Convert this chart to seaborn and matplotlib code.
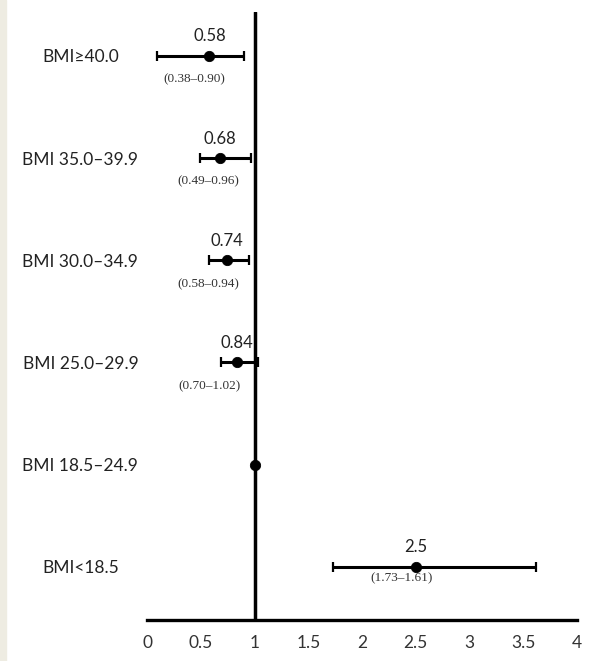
import matplotlib
matplotlib.use("Agg")
import matplotlib.pyplot as plt
import seaborn as sns
import pandas as pd
from matplotlib.patches import Rectangle

# values
categories = ["BMI\u226540.0", "BMI 35.0\u201339.9", "BMI 30.0\u201334.9",
              "BMI 25.0\u201329.9", "BMI 18.5\u201324.9", "BMI<18.5"]
estimates = [0.58, 0.68, 0.74, 0.84, 1.0, 2.5]
lower = [0.09, 0.49, 0.58, 0.69, 1.0, 1.73]
upper = [0.90, 0.97, 0.95, 1.03, 1.0, 3.62]
value_labels = ["0.58", "0.68", "0.74", "0.84", "", "2.5"]
ci_labels = ["(0.38\u20130.90)", "(0.49\u20130.96)", "(0.58\u20130.94)",
             "(0.70\u20131.02)", "", "(1.73\u20131.61)"]
ci_label_x = [0.44, 0.57, 0.57, 0.58, 1.0, 2.37]
xticks = [0, 0.5, 1, 1.5, 2, 2.5, 3, 3.5, 4]
xticklabels = ["0", "0.5", "1", "1.5", "2", "2.5", "3", "3.5", "4"]

df = pd.DataFrame({"group": categories, "or": estimates, "lo": lower, "hi": upper})

sns.set_style("white")
plt.rcParams["font.family"] = ["Lato", "DejaVu Sans"]

fig = plt.figure(figsize=(5.93, 6.61), dpi=100)
fig.patches.append(Rectangle((0, 0), 6 / 593, 1, transform=fig.transFigure,
                             color="#eeece2", zorder=0))
ax = fig.add_axes([0.248, 0.062, 0.725, 0.920])

# whiskers with caps
ax.errorbar(df["or"], df["group"],
            xerr=[df["or"] - df["lo"], df["hi"] - df["or"]],
            fmt="none", ecolor="black", elinewidth=2.2, capsize=3.5, capthick=1.6)
sns.scatterplot(data=df, x="or", y="group", color="black", s=55,
                edgecolor="black", zorder=4, ax=ax, legend=False)

ax.axvline(1, color="black", lw=2.5, zorder=3)

for i, row in df.iterrows():
    if value_labels[i]:
        ax.annotate(value_labels[i], (row["or"], i), xytext=(0, 14),
                    textcoords="offset points", ha="center", va="center",
                    fontsize=12, color="#222222")
    if ci_labels[i]:
        dy = -8 if i == 5 else -17
        ax.annotate(ci_labels[i], (ci_label_x[i], i), xytext=(0, dy),
                    textcoords="offset points", ha="center", va="center",
                    fontsize=9.5, family="Liberation Serif", color="#333333")

ax.set_xlim(0, 4)
ax.set_ylim(5.52, -0.43)
ax.set_xticks(xticks)
ax.set_xticklabels(xticklabels, fontsize=12.5, color="#333333")
ax.set_xlabel("")
ax.set_ylabel("")

for s in ["top", "right", "left"]:
    ax.spines[s].set_visible(False)
ax.spines["bottom"].set_linewidth(2.4)
ax.spines["bottom"].set_color("black")
ax.tick_params(axis="x", direction="in", length=5, width=2, pad=11, color="black")
ax.tick_params(axis="y", length=0, pad=48)
for lab in ax.get_yticklabels():
    lab.set_ha("center")
    lab.set_fontsize(12.5)
    lab.set_color("#222222")

fig.savefig("out.png", dpi=100)
